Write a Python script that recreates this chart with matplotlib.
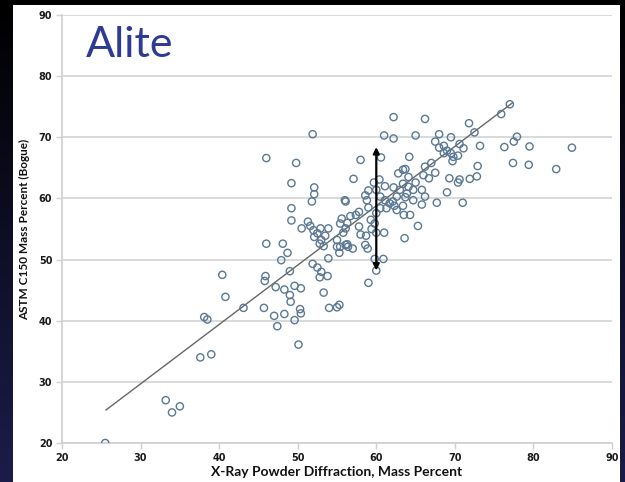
import numpy as np
import matplotlib
matplotlib.use("Agg")
import matplotlib.pyplot as plt
from matplotlib.patches import Rectangle

plt.rcParams['font.family'] = ['Lato', 'DejaVu Sans']

# XRD vs Bogue alite mass percent
xrd = [25.5, 33.2, 34.0, 35.0, 37.6, 39.0, 38.1, 38.5, 40.4, 40.8, 43.1, 45.7,
       45.8, 45.9, 46.0, 47.0, 47.4, 48.3, 47.2, 48.3, 49.6, 50.4, 49.0, 49.1,
       49.6, 50.3, 50.4, 50.1, 47.9, 48.7, 48.1, 49.0, 49.2, 49.2, 49.2, 46.0,
       49.8, 51.9, 51.8, 52.1, 52.1, 51.3, 51.6, 50.5, 52.0, 52.9, 53.9, 52.5,
       53.5, 52.1, 53.0, 53.3, 52.8, 51.9, 52.5, 53.0, 52.8, 53.8, 53.9, 53.3,
       54.0, 55.0, 55.3, 55.0, 56.1, 55.3, 55.4, 56.3, 56.4, 57.0, 55.0, 55.8,
       56.1, 56.3, 55.4, 55.6, 56.7, 57.4, 57.8, 56.0, 56.1, 57.1, 58.0, 57.8,
       58.0, 58.7, 58.6, 58.9, 59.3, 59.8, 59.4, 60.0, 61.0, 59.8, 60.9, 60.0,
       59.0, 58.8, 59.0, 60.0, 60.5, 60.5, 61.1, 58.6, 59.0, 60.0, 59.7, 60.4,
       60.6, 61.1, 62.2, 61.0, 62.2, 62.2, 61.3, 61.7, 62.1, 62.3, 62.6, 62.6,
       63.4, 63.0, 63.9, 63.7, 64.7, 63.4, 64.1, 64.7, 62.8, 63.4, 63.7, 64.1,
       64.2, 65.0, 63.5, 64.3, 63.6, 65.3, 65.0, 66.2, 65.8, 66.2, 65.8, 66.0,
       66.7, 66.2, 67.0, 67.5, 67.7, 69.0, 68.0, 69.5, 67.5, 68.6, 68.0, 69.0,
       69.5, 68.6, 69.8, 70.4, 69.7, 70.6, 71.1, 69.3, 70.6, 70.4, 71.0, 71.9,
       72.8, 72.9, 71.8, 72.5, 73.2, 75.9, 77.0, 76.3, 77.5, 77.9, 77.4, 79.4,
       79.5, 82.9, 84.9]
bogue = [20.0, 27.0, 25.0, 26.0, 34.0, 34.5, 40.6, 40.2, 47.5, 43.9, 42.1, 42.1,
         46.5, 47.3, 52.6, 40.8, 39.1, 41.1, 45.5, 45.1, 45.7, 45.3, 44.2, 43.1,
         40.1, 41.9, 41.2, 36.1, 49.9, 51.1, 52.6, 48.1, 56.4, 58.4, 62.5, 66.6,
         65.8, 70.5, 59.5, 60.7, 61.8, 56.2, 55.5, 55.1, 54.8, 55.1, 55.1, 54.3,
         53.9, 53.7, 53.2, 52.2, 52.6, 49.3, 48.7, 48.0, 47.1, 47.3, 50.2, 44.6,
         42.1, 42.2, 42.6, 52.1, 52.4, 51.1, 52.1, 52.5, 52.1, 51.8, 53.2, 54.4,
         55.1, 56.0, 55.9, 56.7, 57.1, 57.3, 57.8, 59.7, 59.5, 63.2, 66.3, 55.4,
         54.1, 53.9, 52.4, 51.8, 56.5, 55.9, 55.0, 54.4, 54.4, 50.1, 50.1, 48.2,
         46.2, 59.7, 58.5, 57.6, 58.4, 60.3, 59.7, 60.5, 61.3, 61.4, 62.6, 63.1,
         66.7, 62.0, 61.8, 70.3, 69.8, 73.3, 58.4, 59.2, 59.5, 58.8, 58.1, 60.3,
         58.8, 61.4, 60.8, 60.2, 59.7, 62.4, 61.9, 61.4, 64.1, 64.7, 64.8, 63.5,
         66.8, 62.6, 57.3, 57.3, 53.5, 55.5, 70.3, 73.0, 61.4, 60.3, 59.0, 63.8,
         63.3, 65.2, 65.8, 64.2, 59.3, 61.0, 70.5, 70.0, 69.3, 68.6, 68.3, 67.8,
         67.4, 67.4, 66.8, 67.0, 66.1, 68.9, 68.2, 63.3, 63.1, 62.6, 59.3, 63.2,
         63.6, 65.3, 72.3, 70.8, 68.6, 73.8, 75.4, 68.4, 69.3, 70.1, 65.8, 65.5,
         68.5, 64.8, 68.3]

# trend line ends and the spread arrow at 60 %
fit_x = [25.6, 77.3]
fit_y = [25.4, 75.6]
arrow_x = 60
arrow_y = [48.2, 68.4]

ticks = [20, 30, 40, 50, 60, 70, 80, 90]

fig = plt.figure(figsize=(6.25, 4.82), dpi=100)

# dark slide background with a navy fade, white panel on top
bg = fig.add_axes([0, 0, 1, 1], zorder=-10)
grad = np.linspace(0, 1, 256).reshape(-1, 1)
navy = matplotlib.colors.LinearSegmentedColormap.from_list(
    'navy', ['#000000', '#1c1c4a'])
bg.imshow(grad, aspect='auto', cmap=navy, extent=[0, 1, 0, 1], origin='upper')
bg.set_xlim(0, 1)
bg.set_ylim(0, 1)
bg.axis('off')
bg.add_patch(Rectangle((13 / 625, 0), (620 - 13) / 625, 1 - 5 / 482,
                       facecolor='white', edgecolor='none'))

ax = fig.add_axes([62 / 625, 1 - 443 / 482, 550 / 625, 428 / 482])
ax.set_facecolor('none')

ax.scatter(xrd, bogue, s=27, facecolors='none', edgecolors='#5a7894',
           linewidths=1.0, zorder=3)
ax.plot(fit_x, fit_y, color='#666666', lw=1.0, zorder=2)
ax.annotate('', xy=(arrow_x, arrow_y[1]), xytext=(arrow_x, arrow_y[0]),
            arrowprops=dict(arrowstyle='<|-|>', color='black', lw=1.6,
                            mutation_scale=9, shrinkA=0, shrinkB=0), zorder=4)

ax.set_xlim(20, 90)
ax.set_ylim(20, 90)
ax.set_xticks(ticks)
ax.set_yticks(ticks)
tick_font = dict(fontweight='bold', fontsize=7, family='DejaVu Sans',
                 color='#1a1a1a')
ax.set_xticklabels([str(t) for t in ticks], **tick_font)
ax.set_yticklabels([str(t) for t in ticks], **tick_font)
ax.grid(axis='y', color='#d9d9d9', lw=1.4, zorder=0)
ax.set_axisbelow(True)
for side in ['top', 'right']:
    ax.spines[side].set_visible(False)
for side in ['left', 'bottom']:
    ax.spines[side].set_color('#d0d0d0')
    ax.spines[side].set_linewidth(1.2)
ax.tick_params(colors='#d0d0d0', length=4, width=1, pad=3)
for lab in ax.get_xticklabels() + ax.get_yticklabels():
    lab.set_color('#1a1a1a')

ax.set_xlabel('X-Ray Powder Diffraction, Mass Percent', fontsize=10,
              fontweight='bold', color='#111111', labelpad=2)
ax.set_ylabel('ASTM C150 Mass Percent (Bogue)', fontsize=8.5,
              fontweight='bold', color='#111111', labelpad=6)

fig.text(86 / 625, 1 - 57 / 482, 'Alite', fontsize=31, color='#2e3b96')

fig.savefig('out.png', dpi=100)
